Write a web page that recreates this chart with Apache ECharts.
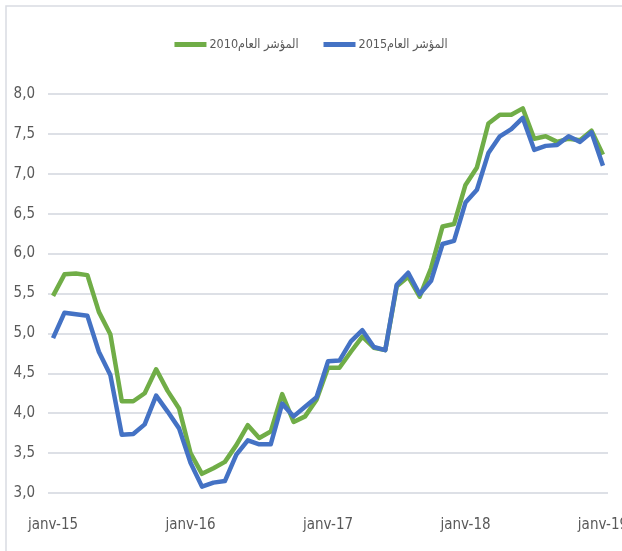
<!DOCTYPE html>
<html>
<head>
<meta charset="utf-8">
<script src="https://cdn.jsdelivr.net/npm/echarts@6/dist/echarts.min.js"></script>
<style>
html,body{margin:0;padding:0;background:#fff;overflow:hidden;}
#chart{width:622px;height:551px;}
</style>
</head>
<body>
<div id="chart"></div>
<script>
// Monthly index values, janv-15 .. janv-19
var months = [];
(function(){
  var m = ['janv','févr','mars','avr','mai','juin','juil','août','sept','oct','nov','déc'];
  for (var y = 15; y <= 19; y++) for (var k = 0; k < 12; k++) { if (y === 19 && k > 0) break; months.push(m[k] + '-' + y); }
})();
var xTickIndices = [0, 12, 24, 36, 48];
var xTickLabels = ['janv-15', 'janv-16', 'janv-17', 'janv-18', 'janv-19'];
var yTicks = [3.0, 3.5, 4.0, 4.5, 5.0, 5.5, 6.0, 6.5, 7.0, 7.5, 8.0];

var seriesNames = ['المؤشر العام2010', 'المؤشر العام2015'];

var index2010 = [
  5.47, 5.74, 5.75, 5.73, 5.27, 4.99, 4.15, 4.15, 4.25, 4.55, 4.28, 4.06,
  3.50, 3.24, 3.31, 3.39, 3.60, 3.85, 3.69, 3.77, 4.24, 3.89, 3.96, 4.17,
  4.57, 4.57, 4.77, 4.96, 4.82, 4.79, 5.59, 5.71, 5.46, 5.82, 6.34, 6.37,
  6.86, 7.08, 7.63, 7.74, 7.74, 7.82, 7.44, 7.47, 7.40, 7.44, 7.42, 7.54,
  7.24
];
var index2015 = [
  4.94, 5.26, 5.24, 5.22, 4.77, 4.48, 3.73, 3.74, 3.86, 4.22, 4.02, 3.81,
  3.38, 3.08, 3.13, 3.15, 3.48, 3.66, 3.61, 3.61, 4.12, 3.96, 4.08, 4.20,
  4.65, 4.66, 4.90, 5.04, 4.83, 4.79, 5.61, 5.76, 5.49, 5.66, 6.12, 6.16,
  6.64, 6.80, 7.26, 7.47, 7.56, 7.70, 7.30, 7.35, 7.36, 7.47, 7.40, 7.52,
  7.10
];

function toPairs(arr){ return arr.map(function(v,i){ return [i, v]; }); }

var FONT = '"Liberation Sans Narrow", "DejaVu Sans Condensed", "DejaVu Sans", sans-serif';
var chart = echarts.init(document.getElementById('chart'), null, {renderer: 'canvas'});
chart.setOption({
  backgroundColor: '#ffffff',
  animation: false,
  graphic: [{
    type: 'polyline', silent: true, z: -10,
    shape: {points: [[6, 560], [6, 6], [640, 6]]},
    style: {fill: null, stroke: '#d9dce2', lineWidth: 1.5}
  }],
  legend: {
    top: 33, left: 'center',
    itemWidth: 32, itemHeight: 5, itemGap: 25,
    icon: 'rect',
    data: seriesNames,
    textStyle: {fontFamily: FONT, fontSize: 12.5, color: '#595959', padding: [0, 0, 0, -2]}
  },
  grid: {left: 48, right: 14, top: 94, bottom: 58, containLabel: false, outerBoundsMode: 'none'},
  xAxis: {
    type: 'value', min: -0.44, max: 48.44,
    axisLine: {show: false}, axisTick: {show: false}, splitLine: {show: false},
    axisLabel: {
      customValues: xTickIndices,
      margin: 25,
      fontFamily: FONT, fontSize: 15, color: '#595959',
      formatter: function(v){ var k = xTickIndices.indexOf(Math.round(v)); return k >= 0 ? xTickLabels[k] : ''; }
    }
  },
  yAxis: {
    type: 'value', min: yTicks[0], max: yTicks[yTicks.length-1], interval: 0.5,
    axisLine: {show: false}, axisTick: {show: false},
    splitLine: {lineStyle: {color: '#dde0e6', width: 2}},
    axisLabel: {
      margin: 13, fontFamily: FONT, fontSize: 15, color: '#595959',
      formatter: function(v){ return v.toFixed(1).replace('.', ','); }
    }
  },
  series: [
    {name: seriesNames[0], type: 'line', data: toPairs(index2010), showSymbol: false, symbol: 'none',
     lineStyle: {color: '#70ad47', width: 4.5, join: 'round'}, itemStyle: {color: '#70ad47'}},
    {name: seriesNames[1], type: 'line', data: toPairs(index2015), showSymbol: false, symbol: 'none',
     lineStyle: {color: '#4472c4', width: 4.5, join: 'round'}, itemStyle: {color: '#4472c4'}}
  ]
});
</script>
</body>
</html>
